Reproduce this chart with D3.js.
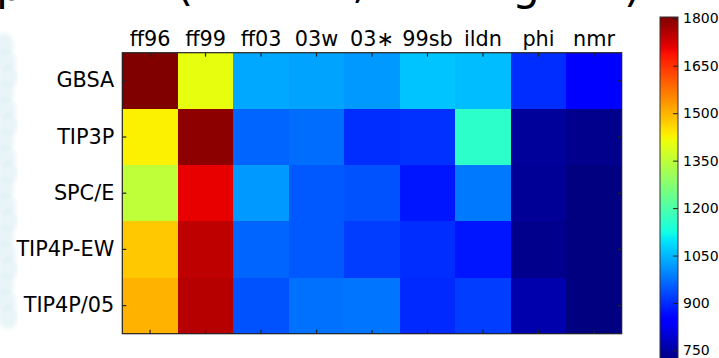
<!DOCTYPE html>
<html><head><meta charset="utf-8">
<script src="https://cdn.jsdelivr.net/npm/d3@7"></script>
<style>body{margin:0;background:#fff;overflow:hidden;} svg{display:block;font-family:"DejaVu Sans",sans-serif;}</style>
</head><body><svg id="c" width="719" height="358"></svg>
<script>
// ---- data ----
const models = ["ff96","ff99","ff03","03w","03\u2217","99sb","ildn","phi","nmr"];
const solvents = ["GBSA","TIP3P","SPC/E","TIP4P-EW","TIP4P/05"];
const gbsa    = [1804,1404,1030,1028,1014,1063,1054,902,835];
const tip3p   = [1428,1789,958,966,902,905,1156,741,730];
const spce    = [1346,1705,1017,947,937,876,979,737,716];
const tip4pew = [1476,1743,958,945,919,902,876,730,715];
const tip4p05 = [1500,1751,940,971,975,895,919,761,718];
const colorTicks = [1800,1650,1500,1350,1200,1050,900,750];
const vmin = 715, vmax = 1804;

(function(){
const rows = [gbsa, tip3p, spce, tip4pew, tip4p05];
const cells = [];
rows.forEach((r,i)=>r.forEach((v,j)=>cells.push({row:solvents[i], col:models[j], v})));

// jet colormap (matplotlib segment data)
function seg(points, t){
  for(let k=1;k<points.length;k++){
    if(t<=points[k][0]){
      const [x0,y0]=points[k-1],[x1,y1]=points[k];
      return y0+(y1-y0)*(t-x0)/(x1-x0);
    }
  }
  return points[points.length-1][1];
}
const R=[[0,0],[0.35,0],[0.66,1],[0.89,1],[1,0.5]];
const G=[[0,0],[0.125,0],[0.375,1],[0.64,1],[0.91,0],[1,0]];
const B=[[0,0.5],[0.11,1],[0.34,1],[0.65,0],[1,0]];
function jet(t){
  t=Math.max(0,Math.min(1,t));
  t=Math.floor(t*255.999)/255;
  return d3.rgb(255*seg(R,t),255*seg(G,t),255*seg(B,t)).formatHex();
}
const color = d3.scaleSequential(jet).domain([vmin,vmax]);

const svg = d3.select("#c");
const defs = svg.append("defs");
defs.append("filter").attr("id","blur").append("feGaussianBlur").attr("stdDeviation",2.5);

// faint background decoration on the left (slide image remnant)
const deco = svg.append("g").attr("filter","url(#blur)").attr("opacity",0.45);
d3.range(45,330,16).forEach((yy,k)=>{
  deco.append("ellipse").attr("cx",4+(k%3)*2).attr("cy",yy).attr("rx",8).attr("ry",10)
    .attr("fill","#cfe9f1").attr("stroke","#9fd0e0").attr("stroke-width",1.5);
});

// title fragments cropped at the top of the slide
const title = svg.append("g").attr("font-size",44).attr("fill","#000");
[["p",-4,0],["(",176,0],[",",352,-2],["g",512,0],[")",624,1]].forEach(([s,xx,yy])=>{
  title.append("text").attr("x",xx).attr("y",yy).text(s);
});

// ---- heatmap ----
const left=122.3, topY=52.7, W=499.4, H=281;
const x = d3.scaleBand().domain(models).range([left,left+W]);
const y = d3.scaleBand().domain(solvents).range([topY,topY+H]);

svg.append("g").selectAll("rect").data(cells).join("rect")
  .attr("x",d=>x(d.col)).attr("y",d=>y(d.row))
  .attr("width",x.bandwidth()+0.4).attr("height",y.bandwidth()+0.4)
  .attr("fill",d=>color(d.v)).attr("shape-rendering","crispEdges");

svg.append("rect").attr("x",left).attr("y",topY).attr("width",W).attr("height",H)
  .attr("fill","none").attr("stroke","#222").attr("stroke-width",1.2);

// axes: labels outside, ticks inward
const fs = 20.8;
const xTop = svg.append("g").attr("transform",`translate(0,${topY})`)
  .call(d3.axisTop(x).tickSize(-4).tickPadding(7));
const xBot = svg.append("g").attr("transform",`translate(0,${topY+H})`)
  .call(d3.axisBottom(x).tickSize(-4).tickFormat(""));
const yL = svg.append("g").attr("transform",`translate(${left},0)`)
  .call(d3.axisLeft(y).tickSize(-4).tickPadding(8));
const yR = svg.append("g").attr("transform",`translate(${left+W},0)`)
  .call(d3.axisRight(y).tickSize(-4).tickFormat(""));
[xTop,xBot,yL,yR].forEach(g=>{
  g.select(".domain").remove();
  g.selectAll(".tick line").attr("stroke","#222").attr("stroke-width",1.2);
  g.selectAll("text").attr("font-size",fs).attr("font-family","DejaVu Sans").attr("fill","#000");
});

// ---- colorbar ----
const cbX=660, cbW=18, pxPer=0.3164;
const cbTop=17, cbH=(vmax-vmin)*pxPer;
const cy = d3.scaleLinear().domain([vmin,vmax]).range([cbTop+cbH,cbTop]);
const grad = defs.append("linearGradient").attr("id","jetg")
  .attr("x1",0).attr("y1",1).attr("x2",0).attr("y2",0);
d3.range(0,1.0001,1/64).forEach(t=>{
  grad.append("stop").attr("offset",t).attr("stop-color",jet(t));
});
svg.append("rect").attr("x",cbX).attr("y",cbTop).attr("width",cbW).attr("height",cbH)
  .attr("fill","url(#jetg)").attr("stroke","#333").attr("stroke-width",1);
const cbAxis = svg.append("g").attr("transform",`translate(${cbX+cbW},0)`)
  .call(d3.axisRight(cy).tickValues(colorTicks).tickSize(-5).tickPadding(5).tickFormat(d3.format("d")));
cbAxis.select(".domain").remove();
cbAxis.selectAll(".tick line").attr("stroke","#222").attr("stroke-width",1);
cbAxis.selectAll("text").attr("font-size",14).attr("font-family","DejaVu Sans").attr("fill","#000");
})();
</script>
</body></html>
